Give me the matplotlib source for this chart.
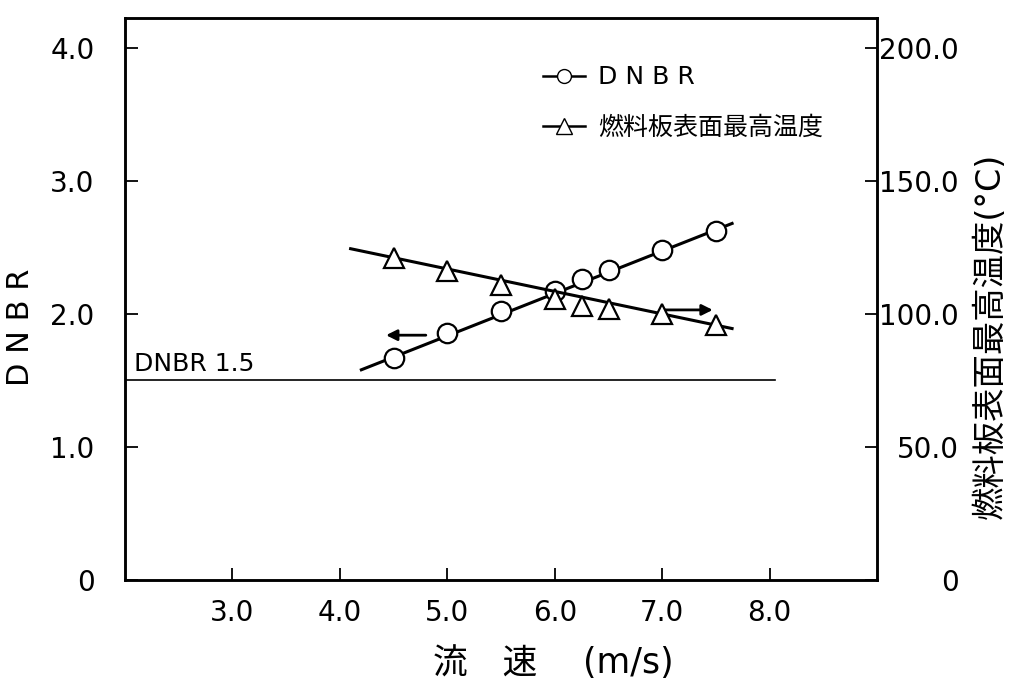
import numpy as np
import matplotlib
matplotlib.use("Agg")
import matplotlib.pyplot as plt
from matplotlib.lines import Line2D

plt.rcParams["font.family"] = ["DejaVu Sans", "Noto Sans CJK JP"]

# flow velocity (m/s)
velocity = [4.5, 5.0, 5.5, 6.0, 6.25, 6.5, 7.0, 7.5]
dnbr     = [1.67, 1.86, 2.02, 2.17, 2.26, 2.33, 2.48, 2.62]
temp     = [121.0, 116.0, 111.0, 105.5, 103.0, 102.0, 100.0, 96.0]

# fitted lines run a little past the first and last point
dnbr_line_x = [4.2, 7.65]
dnbr_line_y = [1.58, 2.68]
temp_line_x = [4.1, 7.65]
temp_line_y = [124.5, 94.5]

dnbr_limit   = 1.5
limit_x      = [2.0, 8.05]

x_ticks      = [3.0, 4.0, 5.0, 6.0, 7.0, 8.0]
x_ticklabels = ["3.0", "4.0", "5.0", "6.0", "7.0", "8.0"]
y_ticks      = [0, 1.0, 2.0, 3.0, 4.0]
y_ticklabels = ["0", "1.0", "2.0", "3.0", "4.0"]
t_ticks      = [0, 50.0, 100.0, 150.0, 200.0]
t_ticklabels = ["0", "50.0", "100.0", "150.0", "200.0"]

# arrows pointing at the axis each curve belongs to
left_arrow  = dict(start=(4.8, 1.84), end=(4.43, 1.84))
right_arrow = dict(start=(7.0, 2.03), end=(7.47, 2.03))

fig = plt.figure(figsize=(10.11, 6.88), dpi=100)
ax = fig.add_axes([0.1236, 0.157, 0.744, 0.817])
ax2 = ax.twinx()

ymax = 4.225
ax.set_xlim(2.0, 9.0)
ax.set_ylim(0, ymax)
ax2.set_ylim(0, ymax * 50)

# DNBR curve
ax.plot(dnbr_line_x, dnbr_line_y, color="black", lw=2.2, zorder=2)
ax.plot(velocity, dnbr, "o", ms=14, mfc="white", mec="black", mew=1.6, zorder=3)

# temperature curve
ax2.plot(temp_line_x, temp_line_y, color="black", lw=2.2, zorder=2)
ax2.plot(velocity, temp, "^", ms=15, mfc="white", mec="black", mew=1.6, zorder=3)

# DNBR limit
ax.plot(limit_x, [dnbr_limit, dnbr_limit], color="black", lw=1.2)
ax.text(2.08, dnbr_limit + 0.03, "DNBR 1.5", fontsize=18, ha="left", va="bottom")

for a in (left_arrow, right_arrow):
    ax.annotate("", xy=a["end"], xytext=a["start"],
                arrowprops=dict(arrowstyle="-|>", lw=2, color="black",
                                mutation_scale=16, shrinkA=0, shrinkB=0))

ax.set_xticks(x_ticks)
ax.set_xticklabels(x_ticklabels)
ax.set_yticks(y_ticks)
ax.set_yticklabels(y_ticklabels)
ax2.set_yticks(t_ticks)
ax2.set_yticklabels(t_ticklabels)

ax.tick_params(axis="x", direction="in", length=9, width=1.3, labelsize=20, pad=14)
ax.tick_params(axis="y", direction="in", length=9, width=1.3, labelsize=20, pad=22)
ax2.tick_params(axis="y", direction="in", length=9, width=1.3, labelsize=20, pad=59)
for lbl in ax2.get_yticklabels():
    lbl.set_horizontalalignment("right")

for a in (ax, ax2):
    for s in a.spines.values():
        s.set_linewidth(1.8)

ax.set_xlabel("流\u3000速\u3000 (m/s)", fontsize=25)
ax.xaxis.set_label_coords(0.57, -0.118)
ax.set_ylabel("D N B R", fontsize=22)
ax.yaxis.set_label_coords(-0.12, 0.45)
ax2.set_ylabel("燃料板表面最高温度(°C)", fontsize=24)
ax2.yaxis.set_label_coords(1.128, 0.435)

handles = [
    Line2D([], [], color="black", lw=1.8, marker="o", ms=10, mfc="white", mec="black"),
    Line2D([], [], color="black", lw=1.8, marker="^", ms=11, mfc="white", mec="black"),
]
fig.legend(handles, ["D N B R", "燃料板表面最高温度"], loc="upper left",
           bbox_to_anchor=(0.537, 0.905), frameon=False, fontsize=18,
           handlelength=1.7, handletextpad=0.5, labelspacing=1.05,
           borderpad=0, borderaxespad=0)

fig.savefig("out.png", dpi=100)
